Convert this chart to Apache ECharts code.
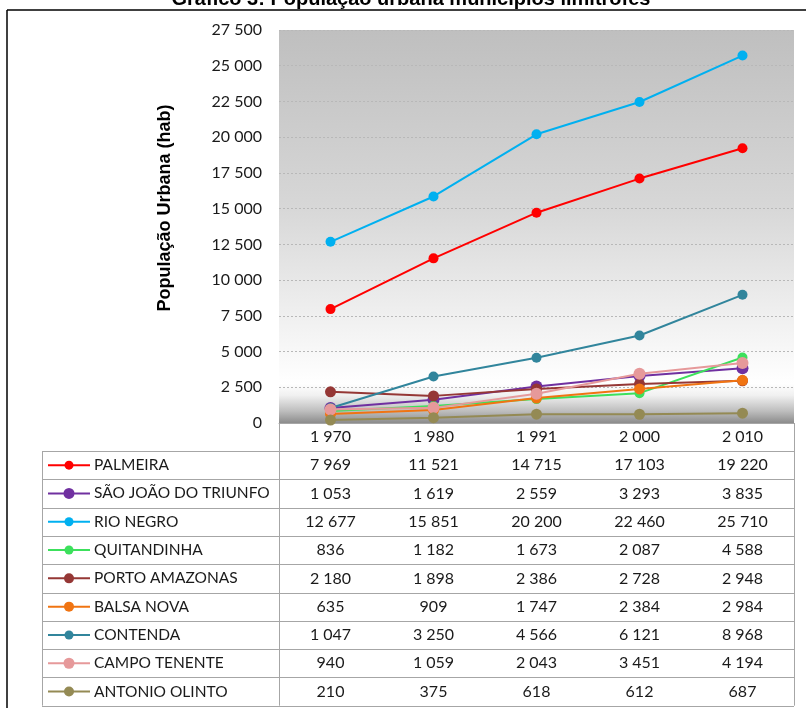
<!DOCTYPE html>
<html>
<head>
<meta charset="utf-8">
<script src="https://cdn.jsdelivr.net/npm/echarts@6/dist/echarts.min.js"></script>
<style>
html, body { margin: 0; padding: 0; background: #ffffff; }
#chart { width: 806px; height: 708px; }
</style>
</head>
<body>
<div id="chart"></div>
<script>
// Census years (x axis categories)
const years = [1970, 1980, 1991, 2000, 2010];

// Urban population per municipality (inhabitants)
const palmeira        = [7969, 11521, 14715, 17103, 19220];
const saoJoaoTriunfo  = [1053, 1619, 2559, 3293, 3835];
const rioNegro        = [12677, 15851, 20200, 22460, 25710];
const quitandinha     = [836, 1182, 1673, 2087, 4588];
const portoAmazonas   = [2180, 1898, 2386, 2728, 2948];
const balsaNova       = [635, 909, 1747, 2384, 2984];
const contenda        = [1047, 3250, 4566, 6121, 8968];
const campoTenente    = [940, 1059, 2043, 3451, 4194];
const antonioOlinto   = [210, 375, 618, 612, 687];

const names = ['PALMEIRA', 'SÃO JOÃO DO TRIUNFO', 'RIO NEGRO', 'QUITANDINHA',
  'PORTO AMAZONAS', 'BALSA NOVA', 'CONTENDA', 'CAMPO TENENTE', 'ANTONIO OLINTO'];
const values = [palmeira, saoJoaoTriunfo, rioNegro, quitandinha,
  portoAmazonas, balsaNova, contenda, campoTenente, antonioOlinto];
const colors = ['#ff0000', '#7030a0', '#00b0f0', '#3ce05c',
  '#953735', '#f07412', '#31859c', '#e6999a', '#948a54'];
const markerSizes = [10, 12, 10, 10, 11, 11, 10, 12, 11];

// y axis scale
const yMin = 0, yMax = 27500, yStep = 2500;

const TEXT_FONT = 'Lato, "Open Sans", sans-serif';

// Thousands grouped with a space, e.g. 12 677
function fmt(v) {
  return String(v).replace(/\B(?=(\d{3})+(?!\d))/g, ' ');
}

const chart = echarts.init(document.getElementById('chart'), null, { renderer: 'canvas' });

const grid = { left: 279, right: 12, top: 30, bottom: 285 };

const option = {
  animation: false,
  backgroundColor: '#ffffff',
  grid: {
    left: grid.left, right: grid.right, top: grid.top, bottom: grid.bottom,
    show: true, borderWidth: 0,
    backgroundColor: new echarts.graphic.LinearGradient(0, 0, 0, 1, [
      { offset: 0, color: '#bfbfbf' },
      { offset: 0.45, color: '#d7d7d7' },
      { offset: 0.8, color: '#f6f6f6' },
      { offset: 0.9, color: '#ffffff' },
      { offset: 0.93, color: '#f0f0f0' },
      { offset: 0.97, color: '#bdbdbd' },
      { offset: 1, color: '#8c8c8c' }
    ])
  },
  xAxis: {
    type: 'category',
    data: years.map(String),
    boundaryGap: true,
    axisLine: { show: true, lineStyle: { color: '#a6a6a6', width: 1 } },
    axisTick: { show: false },
    axisLabel: {
      margin: 6, fontFamily: TEXT_FONT, fontSize: 16, color: '#1a1a1a',
      formatter: (v) => fmt(v)
    },
    splitLine: { show: false }
  },
  yAxis: {
    type: 'value',
    min: yMin, max: yMax, interval: yStep,
    axisLine: { show: false },
    axisTick: { show: false },
    axisLabel: {
      margin: 17, fontFamily: TEXT_FONT, fontSize: 16, color: '#1a1a1a',
      formatter: (v) => fmt(v)
    },
    splitLine: { show: true, lineStyle: { color: '#b8b8b8', type: [2, 2], width: 1 } }
  },
  series: names.map((n, i) => ({
    name: n,
    type: 'line',
    data: values[i],
    symbol: 'circle',
    symbolSize: markerSizes[i],
    showSymbol: true,
    lineStyle: { color: colors[i], width: 2 },
    itemStyle: { color: colors[i] },
    z: 2 + i
  }))
};

chart.setOption(option);

// Data table beneath the plot, aligned to the category axis
const tableLeft = 42;
const tableRight = 806 - grid.right;
const plotLeft = grid.left;
const headerTop = 708 - grid.bottom;
const tableTop = 451;
const rowH = 28.3;
const tableBottom = tableTop + rowH * names.length;
const lineColor = '#a6a6a6';

const colX = years.map((y, i) => chart.convertToPixel({ xAxisIndex: 0 }, i));

const els = [];

// Frame around the figure
els.push({ type: 'line', shape: { x1: 7, y1: 10, x2: 806, y2: 10 }, style: { stroke: '#000', lineWidth: 1.5 } });
els.push({ type: 'line', shape: { x1: 7, y1: 10, x2: 7, y2: 708 }, style: { stroke: '#000', lineWidth: 1.5 } });

// Figure title
els.push({
  type: 'text', x: 411, y: 9,
  style: {
    text: 'Gráfico 3: População urbana municípios limítrofes',
    font: 'bold 20px "Liberation Sans", Arial, sans-serif',
    fill: '#000', align: 'center', verticalAlign: 'bottom'
  }
});

// Axis title
els.push({
  type: 'text', x: 165, y: 208, rotation: Math.PI / 2,
  style: {
    text: 'População Urbana (hab)',
    font: 'bold 18px "Liberation Sans", Arial, sans-serif',
    fill: '#000', align: 'center', verticalAlign: 'middle'
  }
});

// Table rules
for (let r = 0; r <= names.length; r++) {
  const y = Math.round(tableTop + rowH * r) + 0.5;
  els.push({ type: 'line', shape: { x1: tableLeft, y1: y, x2: tableRight, y2: y }, style: { stroke: lineColor, lineWidth: 1 } });
}
els.push({ type: 'line', shape: { x1: tableLeft + 0.5, y1: tableTop, x2: tableLeft + 0.5, y2: tableBottom }, style: { stroke: lineColor, lineWidth: 1 } });
els.push({ type: 'line', shape: { x1: plotLeft + 0.5, y1: headerTop, x2: plotLeft + 0.5, y2: tableBottom }, style: { stroke: lineColor, lineWidth: 1 } });
els.push({ type: 'line', shape: { x1: tableRight + 0.5, y1: headerTop, x2: tableRight + 0.5, y2: tableBottom }, style: { stroke: lineColor, lineWidth: 1 } });

// Rows: legend key, municipality name, values per year
names.forEach((n, r) => {
  const cy = tableTop + rowH * r + rowH / 2;
  els.push({ type: 'line', shape: { x1: 48, y1: cy, x2: 90, y2: cy }, style: { stroke: colors[r], lineWidth: 2 } });
  els.push({ type: 'circle', shape: { cx: 69, cy: cy, r: markerSizes[r] / 2 - 0.5 }, style: { fill: colors[r] } });
  els.push({
    type: 'text', x: 94, y: cy,
    style: { text: n, font: '15.5px ' + TEXT_FONT, fill: '#1a1a1a', align: 'left', verticalAlign: 'middle' }
  });
  values[r].forEach((v, c) => {
    els.push({
      type: 'text', x: colX[c], y: cy,
      style: { text: fmt(v), font: '16px ' + TEXT_FONT, fill: '#1a1a1a', align: 'center', verticalAlign: 'middle' }
    });
  });
});

chart.setOption({ graphic: { elements: els } });
</script>
</body>
</html>
